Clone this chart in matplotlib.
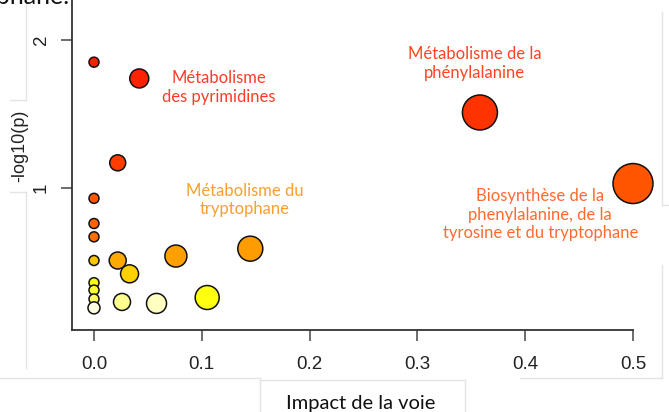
import matplotlib.pyplot as plt
from matplotlib.lines import Line2D

# pathway impact vs -log10(p)
impact = [0.0, 0.042, 0.022, 0.0, 0.0, 0.0, 0.0, 0.022, 0.033, 0.076,
          0.0, 0.0, 0.0, 0.0, 0.026, 0.058, 0.105, 0.145, 0.358, 0.5]
logp = [1.85, 1.74, 1.17, 0.93, 0.76, 0.67, 0.51, 0.51, 0.42, 0.54,
        0.36, 0.31, 0.25, 0.19, 0.23, 0.22, 0.26, 0.59, 1.51, 1.03]
radius_px = [5, 9.5, 8, 5, 5, 5, 5, 8.5, 9, 11,
             5, 5, 5, 6, 8.5, 10, 12, 12.5, 17.5, 20]
colors = ['#ff2000', '#ff2200', '#ff3c00', '#ff5800', '#ff6400', '#ff6e00', '#ffc400',
          '#ffaa00', '#ffd000', '#ffa000', '#ffff00', '#ffff30', '#ffff60', '#ffffe0',
          '#ffff90', '#ffffc0', '#ffff10', '#ff9c00', '#ff3300', '#ff5500']

labels = ["Métabolisme\ndes pyrimidines",
          "Métabolisme de la\nphénylalanine",
          "Métabolisme du\ntryptophane",
          "Biosynthèse de la\nphenylalanine, de la\ntyrosine et du tryptophane"]
label_x = [0.116, 0.353, 0.140, 0.414]
label_y = [1.68, 1.84, 0.92, 0.82]
label_colors = ['#ff3c28', '#ff4420', '#f7a030', '#ff6a30']

xticks = [0.0, 0.1, 0.2, 0.3, 0.4, 0.5]
yticks = [1, 2]

W, H = 669, 412
fig = plt.figure(figsize=(W / 100, H / 100), dpi=100)
ax = fig.add_axes([72 / W, (H - 330) / H, (633 - 72) / W, 330 / H])

sizes = [(2 * r * 0.72) ** 2 for r in radius_px]
ax.scatter(impact, logp, s=sizes, c=colors, edgecolors='#111111',
           linewidths=1.1, zorder=3, clip_on=False)

for t, x, y, c in zip(labels, label_x, label_y, label_colors):
    ax.text(x, y, t, color=c, ha='center', va='center', fontsize=12,
            family='Lato', linespacing=1.2)

ax.set_xlim(-0.0204, 0.5)
ax.set_ylim(0.0405, 2.27)
ax.set_xticks(xticks)
ax.set_xticklabels(['%.1f' % v for v in xticks])
ax.set_yticks(yticks)
ax.set_yticklabels([str(v) for v in yticks], rotation=90, va='center')

for s in ['top', 'right']:
    ax.spines[s].set_visible(False)
for s in ['left', 'bottom']:
    ax.spines[s].set_color('#333333')
    ax.spines[s].set_linewidth(1.3)

ax.tick_params(axis='both', length=8, width=1.1, color='#444444',
               labelcolor='#222222', labelsize=13.5)
ax.tick_params(axis='x', pad=11)
ax.tick_params(axis='y', pad=8)
for lab in ax.get_xticklabels() + ax.get_yticklabels():
    lab.set_family('Liberation Sans')

fig.text(20 / W, 1 - 146 / H, '-log10(p)', rotation=90, ha='center', va='center',
         fontsize=13, family='Liberation Sans', color='#222222')
fig.text(361 / W, 1 - 403 / H, 'Impact de la voie', ha='center', va='center',
         fontsize=14.5, family='Lato', color='#111111')
fig.text(70 / W, 1 - 4 / H, 'tryptophane.', ha='right', va='baseline',
         fontsize=18, family='Lato', color='#111111')

# faint text-box outlines
faint = dict(color='#e4e4e4', lw=1)
segs = [((26, 26), (0, 100)), ((10, 26), (100, 100)), ((10, 26), (192, 192)),
        ((26, 26), (192, 368)), ((0, 260), (378, 378)), ((260, 260), (378, 412)),
        ((260, 465), (380, 380)), ((465, 465), (380, 412)),
        ((662, 662), (12, 205)), ((662, 669), (205, 205)),
        ((662, 662), (265, 378)), ((520, 662), (378, 378))]
for xs, ys in segs:
    fig.add_artist(Line2D([x / W for x in xs], [1 - y / H for y in ys],
                          transform=fig.transFigure, **faint))

fig.savefig('out.png', dpi=100)
